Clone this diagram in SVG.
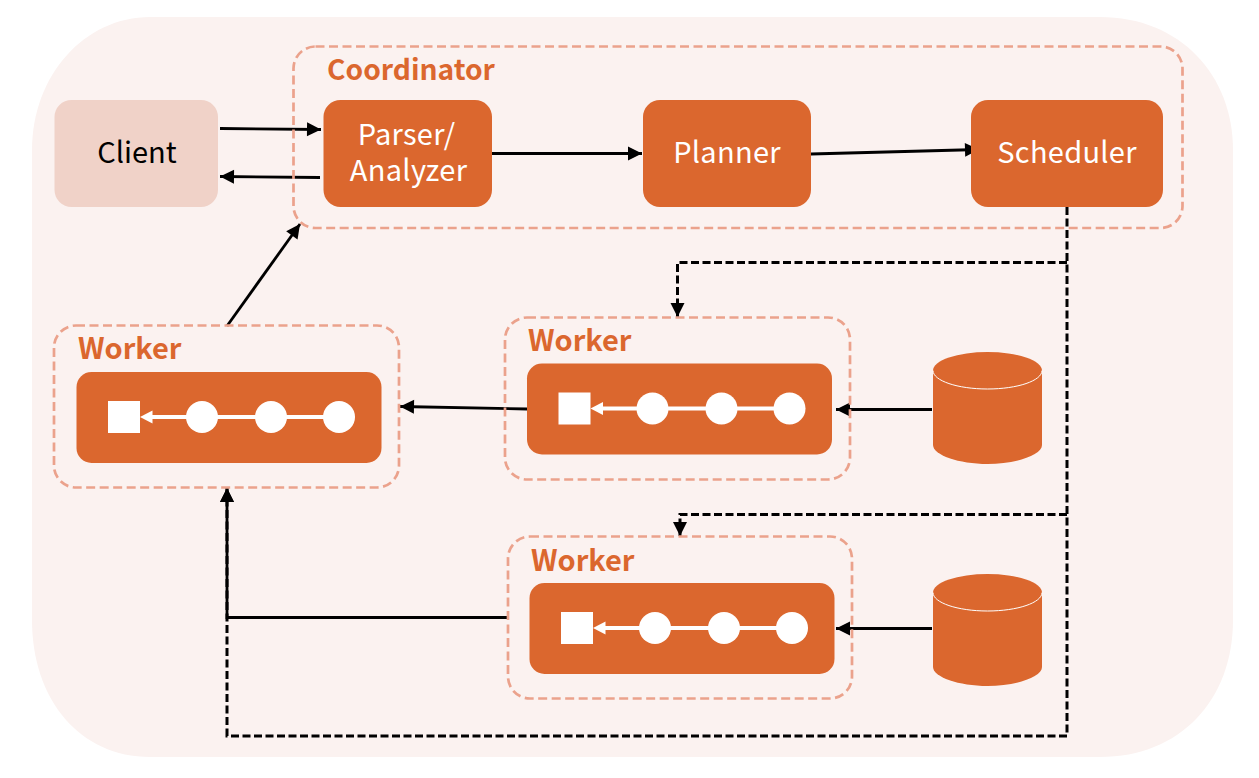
<svg xmlns="http://www.w3.org/2000/svg" width="1259" height="778" viewBox="0 0 1259 778">
<style>
.box{fill:#DB672E}
.grp{fill:none;stroke:#EBA28C;stroke-width:2.7;stroke-dasharray:9 4.500}
.t{font-family:"Noto Sans CJK SC","Noto Sans",sans-serif;font-size:29px;fill:#fff;text-anchor:middle;letter-spacing:.3px}
.k{font-family:"Noto Sans CJK SC","Noto Sans",sans-serif;font-size:29px;fill:#000;text-anchor:middle}
.g{font-family:"Noto Sans CJK SC","Noto Sans",sans-serif;font-size:29px;font-weight:700;fill:#DB672E}
.c{fill:none;stroke:#000;stroke-width:2.8}
.d{fill:none;stroke:#000;stroke-width:3;stroke-dasharray:8 3.500}
.w{fill:#fff}
.wl{stroke:#fff;stroke-width:4;fill:none}
</style>
<defs>
<marker id="a" markerUnits="userSpaceOnUse" markerWidth="16" markerHeight="16" refX="15" refY="8" orient="auto"><path d="M1 1L15 8L1 15z" fill="#000"/></marker>
<g id="pipe">
<rect class="box" x="0" y="0" width="305" height="91" rx="15"/>
<path class="wl" d="M75 45H263"/>
<path class="w" d="M63.500 45L76 38.500V51.500z"/>
<rect class="w" x="31.500" y="29" width="32" height="32"/>
<circle class="w" cx="125.500" cy="45" r="16"/>
<circle class="w" cx="194.500" cy="45" r="16"/>
<circle class="w" cx="262.500" cy="45" r="16"/>
</g>
<g id="cyl">
<path class="box" d="M933 370.500V445C933 455 959 464 987.500 464S1042 455 1042 445V370.500z"/>
<ellipse class="box" cx="987.500" cy="370.500" rx="54.500" ry="18.500"/>
<path d="M933 370.500C933 380.700 957.400 389 987.500 389S1042 380.700 1042 370.500" fill="none" stroke="#fff" stroke-width="1"/>
</g>
</defs>
<path d="M150 17H1100C1180 17 1233 75 1233 150V620C1233 700 1180 757 1100 757H150C80 757 32 700 32 620V150C32 75 85 17 150 17z" fill="#FBF2F0"/>
<g id="connectors">
<path class="c" d="M220 128.500L321 129.500" marker-end="url(#a)"/>
<path class="c" d="M320 177.500L220 176.500" marker-end="url(#a)"/>
<path class="c" d="M492 153.500H642" marker-end="url(#a)"/>
<path class="c" d="M811 154L979 149.500" marker-end="url(#a)"/>
<path class="c" d="M227 326L300 224" marker-end="url(#a)"/>
<path class="c" d="M527 409L400 406.500" marker-end="url(#a)"/>
<path class="c" d="M932 409.500H836" marker-end="url(#a)"/>
<path class="c" d="M932 628.500H836" marker-end="url(#a)"/>
<path class="c" d="M508 617.500H227V488" marker-end="url(#a)"/>
<path class="d" d="M1067 207V736H227V488" marker-end="url(#a)"/>
<path class="d" d="M1067 262.500H677.500V317" marker-end="url(#a)"/>
<path class="d" d="M1067 514.500H680V536" marker-end="url(#a)"/>
</g>
<g id="client"><rect x="54.500" y="100" width="163.500" height="107" rx="17" fill="#F0D2C8"/><text class="k" x="137" y="163">Client</text></g>
<g id="coordinator"><rect class="grp" x="293.500" y="46.500" width="889" height="181.500" rx="22"/><text class="g" x="327" y="80" style="font-size:28.200px">Coordinator</text></g>
<g id="parser"><rect class="box" x="323.500" y="100" width="168.500" height="107" rx="17"/><text class="t" x="406.500" y="145">Parser/</text><text class="t" x="408.500" y="181">Analyzer</text></g>
<g id="planner"><rect class="box" x="643" y="100" width="168" height="107" rx="17"/><text class="t" x="727" y="163">Planner</text></g>
<g id="scheduler"><rect class="box" x="971" y="100" width="192" height="107" rx="17"/><text class="t" x="1067" y="163">Scheduler</text></g>
<g id="worker1"><rect class="grp" x="54" y="325.500" width="345" height="162" rx="22"/><text class="g" x="78" y="359">Worker</text><use href="#pipe" x="76.500" y="372"/></g>
<g id="worker2"><rect class="grp" x="505" y="317.500" width="345" height="162" rx="22"/><text class="g" x="528" y="351">Worker</text><use href="#pipe" x="527" y="363.500"/></g>
<g id="worker3"><rect class="grp" x="508" y="536.500" width="344" height="162" rx="22"/><text class="g" x="531" y="571">Worker</text><use href="#pipe" x="529.500" y="583"/></g>
<g id="store1"><use href="#cyl"/></g>
<g id="store2"><use href="#cyl" y="222"/></g>
</svg>
